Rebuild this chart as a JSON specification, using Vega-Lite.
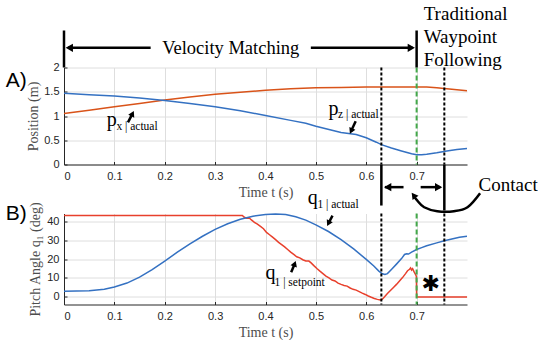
{
  "$schema": "https://vega.github.io/schema/vega-lite/v6.json",
  "background": "white",
  "padding": {"left": 5, "top": 4.5, "right": 0, "bottom": 0},
  "bounds": "flush",
  "spacing": 49,
  "config": {
    "view": {"stroke": null},
    "axis": {
      "labelFont": "Liberation Sans", "labelFontSize": 11, "labelColor": "#262626",
      "titleFont": "Liberation Serif", "titleFontSize": 14, "titleFontWeight": "normal", "titleColor": "#4d4d4d",
      "domainColor": "#262626", "tickColor": "#262626", "tickSize": -3,
      "gridColor": "#dedede", "gridWidth": 1
    },
    "axisX": {"labelPadding": 9},
    "axisY": {"labelPadding": 8}
  },
  "datasets": {
    "px": [
      {"t": 0, "v": 1.05}, {"t": 0.05, "v": 1.12}, {"t": 0.1, "v": 1.19}, {"t": 0.15, "v": 1.26},
      {"t": 0.2, "v": 1.33}, {"t": 0.25, "v": 1.39}, {"t": 0.3, "v": 1.45}, {"t": 0.35, "v": 1.49},
      {"t": 0.4, "v": 1.53}, {"t": 0.45, "v": 1.56}, {"t": 0.5, "v": 1.58}, {"t": 0.55, "v": 1.59},
      {"t": 0.6, "v": 1.6}, {"t": 0.65, "v": 1.6}, {"t": 0.7, "v": 1.6}, {"t": 0.72, "v": 1.6},
      {"t": 0.74, "v": 1.58}, {"t": 0.76, "v": 1.56}, {"t": 0.78, "v": 1.54}, {"t": 0.8, "v": 1.52}
    ],
    "pz": [
      {"t": 0, "v": 1.47}, {"t": 0.05, "v": 1.44}, {"t": 0.1, "v": 1.41}, {"t": 0.15, "v": 1.37},
      {"t": 0.2, "v": 1.32}, {"t": 0.25, "v": 1.26}, {"t": 0.3, "v": 1.19}, {"t": 0.35, "v": 1.11},
      {"t": 0.4, "v": 1.01}, {"t": 0.45, "v": 0.91}, {"t": 0.48, "v": 0.85}, {"t": 0.5, "v": 0.79},
      {"t": 0.53, "v": 0.71}, {"t": 0.55, "v": 0.66}, {"t": 0.58, "v": 0.62}, {"t": 0.6, "v": 0.55},
      {"t": 0.62, "v": 0.46}, {"t": 0.63, "v": 0.41}, {"t": 0.65, "v": 0.34}, {"t": 0.67, "v": 0.28},
      {"t": 0.69, "v": 0.22}, {"t": 0.7, "v": 0.2}, {"t": 0.71, "v": 0.2}, {"t": 0.72, "v": 0.21},
      {"t": 0.74, "v": 0.24}, {"t": 0.76, "v": 0.28}, {"t": 0.78, "v": 0.31}, {"t": 0.8, "v": 0.33}
    ],
    "qa": [
      {"t": 0, "v": 3.0}, {"t": 0.05, "v": 3.2}, {"t": 0.08, "v": 4.0}, {"t": 0.1, "v": 5.2},
      {"t": 0.125, "v": 7.3}, {"t": 0.15, "v": 10.4}, {"t": 0.175, "v": 14.4}, {"t": 0.2, "v": 18.9},
      {"t": 0.225, "v": 23.6}, {"t": 0.25, "v": 28.0}, {"t": 0.275, "v": 32.0}, {"t": 0.3, "v": 35.6},
      {"t": 0.325, "v": 38.6}, {"t": 0.35, "v": 41.0}, {"t": 0.375, "v": 42.6}, {"t": 0.4, "v": 43.5},
      {"t": 0.42, "v": 43.8}, {"t": 0.44, "v": 43.5}, {"t": 0.46, "v": 42.3}, {"t": 0.48, "v": 40.5},
      {"t": 0.5, "v": 38.0}, {"t": 0.525, "v": 34.5}, {"t": 0.55, "v": 30.2}, {"t": 0.575, "v": 25.3},
      {"t": 0.6, "v": 19.8}, {"t": 0.615, "v": 16.3}, {"t": 0.625, "v": 13.6}, {"t": 0.632, "v": 12.2},
      {"t": 0.637, "v": 11.8}, {"t": 0.642, "v": 12.3}, {"t": 0.65, "v": 14.5}, {"t": 0.66, "v": 17.3},
      {"t": 0.67, "v": 20.2}, {"t": 0.676, "v": 22.4}, {"t": 0.68, "v": 22.8}, {"t": 0.684, "v": 22.6},
      {"t": 0.69, "v": 23.6}, {"t": 0.7, "v": 25.0}, {"t": 0.71, "v": 26.0}, {"t": 0.72, "v": 27.0},
      {"t": 0.74, "v": 28.5}, {"t": 0.755, "v": 29.6}, {"t": 0.77, "v": 30.6}, {"t": 0.785, "v": 31.5},
      {"t": 0.8, "v": 32.0}
    ],
    "qs": [
      {"t": 0, "v": 43}, {"t": 0.354, "v": 43}, {"t": 0.358, "v": 42}, {"t": 0.362, "v": 41.5},
      {"t": 0.368, "v": 41.6}, {"t": 0.372, "v": 40.6}, {"t": 0.378, "v": 39.3}, {"t": 0.384, "v": 38.4},
      {"t": 0.39, "v": 37.2}, {"t": 0.396, "v": 36.0}, {"t": 0.402, "v": 34.0}, {"t": 0.408, "v": 32.8},
      {"t": 0.414, "v": 31.5}, {"t": 0.42, "v": 30.2}, {"t": 0.426, "v": 28.8}, {"t": 0.432, "v": 27.6},
      {"t": 0.438, "v": 26.4}, {"t": 0.444, "v": 25.0}, {"t": 0.45, "v": 23.6}, {"t": 0.456, "v": 22.4},
      {"t": 0.462, "v": 21.2}, {"t": 0.468, "v": 20.6}, {"t": 0.474, "v": 19.6}, {"t": 0.48, "v": 19.0},
      {"t": 0.486, "v": 18.9}, {"t": 0.49, "v": 18.1}, {"t": 0.496, "v": 16.5}, {"t": 0.502, "v": 15.0},
      {"t": 0.508, "v": 13.6}, {"t": 0.514, "v": 12.3}, {"t": 0.52, "v": 11.0}, {"t": 0.526, "v": 10.0},
      {"t": 0.532, "v": 8.9}, {"t": 0.538, "v": 8.4}, {"t": 0.544, "v": 7.3}, {"t": 0.55, "v": 6.6},
      {"t": 0.556, "v": 6.0}, {"t": 0.562, "v": 5.7}, {"t": 0.568, "v": 4.7}, {"t": 0.574, "v": 4.0},
      {"t": 0.58, "v": 3.6}, {"t": 0.586, "v": 2.8}, {"t": 0.592, "v": 2.0}, {"t": 0.598, "v": 1.3},
      {"t": 0.604, "v": 0.5}, {"t": 0.61, "v": -0.2}, {"t": 0.616, "v": -0.8}, {"t": 0.622, "v": -1.3},
      {"t": 0.628, "v": -1.6}, {"t": 0.632, "v": -1.2}, {"t": 0.636, "v": 0.0}, {"t": 0.642, "v": 1.8},
      {"t": 0.648, "v": 3.4}, {"t": 0.654, "v": 5.0}, {"t": 0.66, "v": 6.6}, {"t": 0.666, "v": 8.4},
      {"t": 0.672, "v": 10.2}, {"t": 0.678, "v": 12.3}, {"t": 0.682, "v": 13.8}, {"t": 0.686, "v": 14.6},
      {"t": 0.688, "v": 15.3}, {"t": 0.69, "v": 14.2}, {"t": 0.692, "v": 14.9}, {"t": 0.695, "v": 13.2},
      {"t": 0.698, "v": 11.8}, {"t": 0.6995, "v": 10.8}, {"t": 0.7, "v": 0}, {"t": 0.8, "v": 0}
    ],
    "dotted": [{"t": 0.63}, {"t": 0.755}],
    "green": [{"t": 0.7}]
  },
  "vconcat": [
    {
      "width": 403,
      "height": 97,
      "layer": [
        {
          "data": {"name": "px"},
          "mark": {"type": "line", "color": "#D95319", "strokeWidth": 1.5, "clip": false},
          "encoding": {
            "x": {"field": "t", "type": "quantitative", "scale": {"domain": [0, 0.8], "nice": false},
                  "axis": {"values": [0, 0.1, 0.2, 0.3, 0.4, 0.5, 0.6, 0.7], "format": "~r", "title": "Time t (s)", "titlePadding": 4, "grid": true, "labelOverlap": false}},
            "y": {"field": "v", "type": "quantitative", "scale": {"domain": [0, 2], "nice": false},
                  "axis": {"tickCount": 4, "format": "~r", "title": "Position (m)", "titlePadding": 3, "grid": true, "labelOverlap": false, "labelSeparation": 0, "labelBound": false, "labelFlush": false}}
          }
        },
        {
          "data": {"name": "pz"},
          "mark": {"type": "line", "color": "#3471C2", "strokeWidth": 1.5},
          "encoding": {"x": {"field": "t", "type": "quantitative"}, "y": {"field": "v", "type": "quantitative"}}
        },
        {
          "data": {"name": "dotted"},
          "mark": {"type": "rule", "color": "black", "strokeWidth": 2, "strokeDash": [3, 2]},
          "encoding": {"x": {"field": "t", "type": "quantitative"}}
        },
        {
          "data": {"name": "green"},
          "mark": {"type": "rule", "color": "#43A84A", "strokeWidth": 2, "strokeDash": [5, 3]},
          "encoding": {"x": {"field": "t", "type": "quantitative"}}
        },
        {
          "data": {"values": [{"t": 0, "v": 2.0, "v2": 2.763}, {"t": 0.7, "v": 2.0, "v2": 2.763}]},
          "mark": {"type": "rule", "color": "black", "strokeWidth": 2.5},
          "encoding": {"x": {"field": "t", "type": "quantitative"}, "y": {"field": "v", "type": "quantitative"}, "y2": {"field": "v2"}}
        },
        {
          "data": {"values": [{"t": 0.008, "t2": 0.172, "v": 2.406, "v2": 2.406}, {"t": 0.49, "t2": 0.692, "v": 2.406, "v2": 2.406}, {"t": 0.127, "t2": 0.136, "v": 0.87, "v2": 1.05}, {"t": 0.579, "t2": 0.57, "v": 0.89, "v2": 0.69}]},
          "mark": {"type": "rule", "color": "black", "strokeWidth": 2.5},
          "encoding": {"x": {"field": "t", "type": "quantitative"}, "x2": {"field": "t2"}, "y": {"field": "v", "type": "quantitative"}, "y2": {"field": "v2"}}
        },
        {
          "data": {"values": [{"t": 0.0105, "v": 2.406}]},
          "mark": {"type": "point", "shape": "triangle-left", "filled": true, "color": "black", "size": 70, "opacity": 1},
          "encoding": {"x": {"field": "t", "type": "quantitative"}, "y": {"field": "v", "type": "quantitative"}}
        },
        {
          "data": {"values": [{"t": 0.6895, "v": 2.406}]},
          "mark": {"type": "point", "shape": "triangle-right", "filled": true, "color": "black", "size": 70, "opacity": 1},
          "encoding": {"x": {"field": "t", "type": "quantitative"}, "y": {"field": "v", "type": "quantitative"}}
        },
        {
          "data": {"values": [{"t": 0.136, "v": 1.05}]},
          "mark": {"type": "point", "shape": "triangle-up", "filled": true, "color": "black", "size": 45, "angle": 26, "opacity": 1},
          "encoding": {"x": {"field": "t", "type": "quantitative"}, "y": {"field": "v", "type": "quantitative"}}
        },
        {
          "data": {"values": [{"t": 0.57, "v": 0.69}]},
          "mark": {"type": "point", "shape": "triangle-down", "filled": true, "color": "black", "size": 45, "angle": 25, "opacity": 1},
          "encoding": {"x": {"field": "t", "type": "quantitative"}, "y": {"field": "v", "type": "quantitative"}}
        },
        {
          "data": {"values": [{"t": -0.1157, "v": 1.594, "label": "A)"}]},
          "mark": {"type": "text", "font": "Liberation Sans", "fontSize": 21, "align": "left", "baseline": "alphabetic", "color": "black"},
          "encoding": {"x": {"field": "t", "type": "quantitative"}, "y": {"field": "v", "type": "quantitative"}, "text": {"field": "label"}}
        },
        {
          "data": {"values": [{"t": 0.331, "v": 2.28, "label": "Velocity Matching"}]},
          "mark": {"type": "text", "font": "Liberation Serif", "fontSize": 18.5, "align": "center", "baseline": "alphabetic", "color": "black"},
          "encoding": {"x": {"field": "t", "type": "quantitative"}, "y": {"field": "v", "type": "quantitative"}, "text": {"field": "label"}}
        },
        {
          "data": {"values": [{"t": 0.714, "v": 2.984, "label": "Traditional"}, {"t": 0.714, "v": 2.501, "label": "Waypoint"}, {"t": 0.714, "v": 2.021, "label": "Following"}]},
          "mark": {"type": "text", "font": "Liberation Serif", "fontSize": 19, "align": "left", "baseline": "alphabetic", "color": "black"},
          "encoding": {"x": {"field": "t", "type": "quantitative"}, "y": {"field": "v", "type": "quantitative"}, "text": {"field": "label"}}
        },
        {
          "data": {"values": [{"t": 0.085, "v": 0.8, "label": "p"}, {"t": 0.525, "v": 1.03, "label": "p"}]},
          "mark": {"type": "text", "font": "Liberation Serif", "fontSize": 20, "align": "left", "baseline": "alphabetic", "color": "black"},
          "encoding": {"x": {"field": "t", "type": "quantitative"}, "y": {"field": "v", "type": "quantitative"}, "text": {"field": "label"}}
        },
        {
          "data": {"values": [{"t": 0.104, "v": 0.71, "label": "x | actual"}, {"t": 0.544, "v": 0.95, "label": "z | actual"}]},
          "mark": {"type": "text", "font": "Liberation Serif", "fontSize": 11.5, "align": "left", "baseline": "alphabetic", "color": "black"},
          "encoding": {"x": {"field": "t", "type": "quantitative"}, "y": {"field": "v", "type": "quantitative"}, "text": {"field": "label"}}
        }
      ]
    },
    {
      "width": 403,
      "height": 91,
      "layer": [
        {
          "data": {"name": "qs"},
          "mark": {"type": "line", "color": "#E8402C", "strokeWidth": 1.5, "clip": false},
          "encoding": {
            "x": {"field": "t", "type": "quantitative", "scale": {"domain": [0, 0.8], "nice": false},
                  "axis": {"values": [0, 0.1, 0.2, 0.3, 0.4, 0.5, 0.6, 0.7], "format": "~r", "title": "Time t (s)", "titlePadding": 4, "grid": true, "labelOverlap": false}},
            "y": {"field": "v", "type": "quantitative", "scale": {"domain": [-4, 44], "nice": false},
                  "axis": {"tickCount": 5, "format": "d", "title": "Pitch Angle q₁ (deg)", "titlePadding": 4, "grid": true, "labelOverlap": false, "labelSeparation": 0, "labelBound": false, "labelFlush": false}}
          }
        },
        {
          "data": {"name": "qa"},
          "mark": {"type": "line", "color": "#3471C2", "strokeWidth": 1.5},
          "encoding": {"x": {"field": "t", "type": "quantitative"}, "y": {"field": "v", "type": "quantitative"}}
        },
        {
          "data": {"name": "dotted"},
          "mark": {"type": "rule", "color": "black", "strokeWidth": 2, "strokeDash": [3, 2]},
          "encoding": {"x": {"field": "t", "type": "quantitative"}}
        },
        {
          "data": {"name": "green"},
          "mark": {"type": "rule", "color": "#43A84A", "strokeWidth": 2, "strokeDash": [5, 3]},
          "encoding": {"x": {"field": "t", "type": "quantitative"}}
        },
        {
          "data": {"values": [{"t": 0.63, "v": 69.8, "v2": 48.2}, {"t": 0.755, "v": 69.8, "v2": 45.6}]},
          "mark": {"type": "rule", "color": "black", "strokeWidth": 2.5},
          "encoding": {"x": {"field": "t", "type": "quantitative"}, "y": {"field": "v", "type": "quantitative"}, "y2": {"field": "v2"}}
        },
        {
          "data": {"values": [{"t": 0.637, "t2": 0.674, "v": 57.9, "v2": 57.9}, {"t": 0.708, "t2": 0.747, "v": 57.9, "v2": 57.9}, {"t": 0.533, "t2": 0.525, "v": 42.9, "v2": 38.8}, {"t": 0.451, "t2": 0.458, "v": 13.0, "v2": 17.5}]},
          "mark": {"type": "rule", "color": "black", "strokeWidth": 2.5},
          "encoding": {"x": {"field": "t", "type": "quantitative"}, "x2": {"field": "t2"}, "y": {"field": "v", "type": "quantitative"}, "y2": {"field": "v2"}}
        },
        {
          "data": {"values": [
            {"i": 0, "t": 0.826, "v": 54.7}, {"i": 1, "t": 0.801, "v": 47.3}, {"i": 2, "t": 0.774, "v": 45.2},
            {"i": 3, "t": 0.741, "v": 45.2}, {"i": 4, "t": 0.715, "v": 47.3}, {"i": 5, "t": 0.701, "v": 50.9},
            {"i": 6, "t": 0.695, "v": 53.0}
          ]},
          "mark": {"type": "line", "color": "black", "strokeWidth": 2.5, "interpolate": "cardinal"},
          "encoding": {"x": {"field": "t", "type": "quantitative"}, "y": {"field": "v", "type": "quantitative"}, "order": {"field": "i", "type": "quantitative"}}
        },
        {
          "data": {"values": [{"t": 0.6425, "v": 57.9}]},
          "mark": {"type": "point", "shape": "triangle-left", "filled": true, "color": "black", "size": 70, "opacity": 1},
          "encoding": {"x": {"field": "t", "type": "quantitative"}, "y": {"field": "v", "type": "quantitative"}}
        },
        {
          "data": {"values": [{"t": 0.7437, "v": 57.9}]},
          "mark": {"type": "point", "shape": "triangle-right", "filled": true, "color": "black", "size": 70, "opacity": 1},
          "encoding": {"x": {"field": "t", "type": "quantitative"}, "y": {"field": "v", "type": "quantitative"}}
        },
        {
          "data": {"values": [{"t": 0.694, "v": 53.6}]},
          "mark": {"type": "point", "shape": "triangle-up", "filled": true, "color": "black", "size": 55, "angle": -37, "opacity": 1},
          "encoding": {"x": {"field": "t", "type": "quantitative"}, "y": {"field": "v", "type": "quantitative"}}
        },
        {
          "data": {"values": [{"t": 0.525, "v": 38.8}]},
          "mark": {"type": "point", "shape": "triangle-down", "filled": true, "color": "black", "size": 45, "angle": 27, "opacity": 1},
          "encoding": {"x": {"field": "t", "type": "quantitative"}, "y": {"field": "v", "type": "quantitative"}}
        },
        {
          "data": {"values": [{"t": 0.458, "v": 17.5}]},
          "mark": {"type": "point", "shape": "triangle-up", "filled": true, "color": "black", "size": 45, "angle": 20, "opacity": 1},
          "encoding": {"x": {"field": "t", "type": "quantitative"}, "y": {"field": "v", "type": "quantitative"}}
        },
        {
          "data": {"values": [{"t": -0.1157, "v": 40.7, "label": "B)"}]},
          "mark": {"type": "text", "font": "Liberation Sans", "fontSize": 21, "align": "left", "baseline": "alphabetic", "color": "black"},
          "encoding": {"x": {"field": "t", "type": "quantitative"}, "y": {"field": "v", "type": "quantitative"}, "text": {"field": "label"}}
        },
        {
          "data": {"values": [{"t": 0.823, "v": 55.8, "label": "Contact"}]},
          "mark": {"type": "text", "font": "Liberation Serif", "fontSize": 19, "align": "left", "baseline": "alphabetic", "color": "black"},
          "encoding": {"x": {"field": "t", "type": "quantitative"}, "y": {"field": "v", "type": "quantitative"}, "text": {"field": "label"}}
        },
        {
          "data": {"values": [{"t": 0.484, "v": 49.1, "label": "q"}, {"t": 0.4, "v": 9.5, "label": "q"}]},
          "mark": {"type": "text", "font": "Liberation Serif", "fontSize": 20, "align": "left", "baseline": "alphabetic", "color": "black"},
          "encoding": {"x": {"field": "t", "type": "quantitative"}, "y": {"field": "v", "type": "quantitative"}, "text": {"field": "label"}}
        },
        {
          "data": {"values": [{"t": 0.503, "v": 47.0, "label": "1 | actual"}, {"t": 0.418, "v": 5.8, "label": "1 | setpoint"}]},
          "mark": {"type": "text", "font": "Liberation Serif", "fontSize": 11.5, "align": "left", "baseline": "alphabetic", "color": "black"},
          "encoding": {"x": {"field": "t", "type": "quantitative"}, "y": {"field": "v", "type": "quantitative"}, "text": {"field": "label"}}
        },
        {
          "data": {"values": [{"t": 0.728, "v": 6.9, "label": "✱"}]},
          "mark": {"type": "text", "font": "DejaVu Sans", "fontSize": 22, "align": "center", "baseline": "middle", "color": "black"},
          "encoding": {"x": {"field": "t", "type": "quantitative"}, "y": {"field": "v", "type": "quantitative"}, "text": {"field": "label"}}
        }
      ]
    }
  ]
}
